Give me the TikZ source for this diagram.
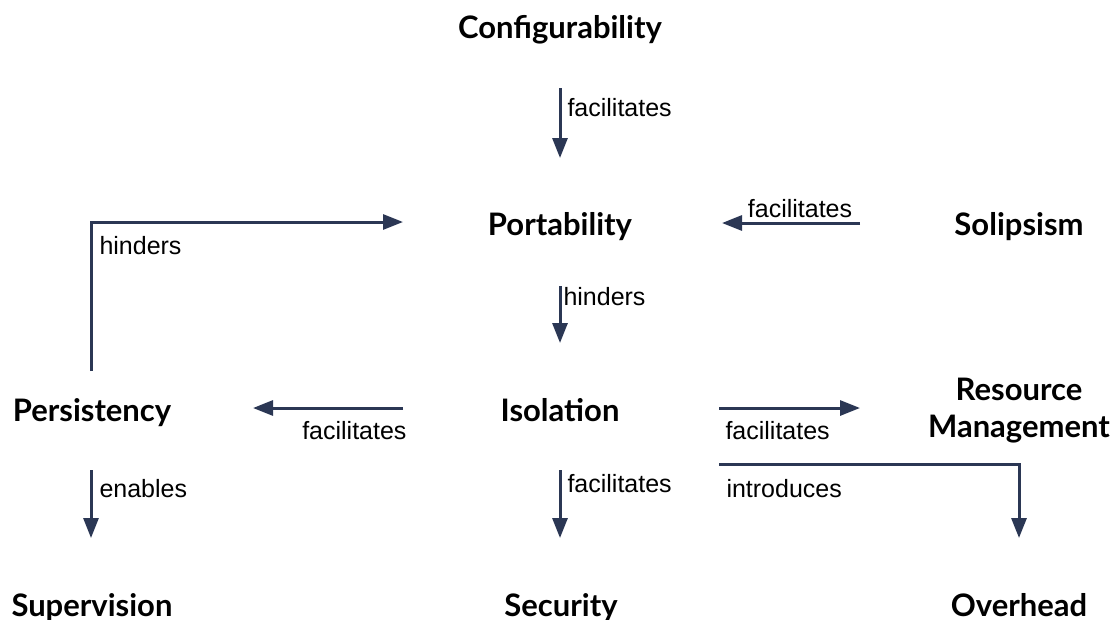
\documentclass[tikz,border=0pt]{standalone}
\usepackage{fontspec}
\setmainfont{Lato}
\newfontfamily\edgefont{Liberation Sans}
\usetikzlibrary{arrows.meta}
\definecolor{linknavy}{HTML}{2B3754}
\tikzset{
  concept/.style={font=\fontsize{31}{37}\selectfont\bfseries, inner sep=0pt, anchor=base, text=black},
  link/.style={draw=linknavy, line width=3pt, -{Triangle[length=20pt,width=15pt]}},
  rel/.style={font=\edgefont\fontsize{25}{30}\selectfont, inner sep=0pt, text=black},
}
\begin{document}
\begin{tikzpicture}[x=1pt,y=-1pt]
\useasboundingbox (0,0) rectangle (1115,619);

% concepts
\node[concept] (conf)  at (560,38)  {Configurability};
\node[concept] (port)  at (560,235) {Portability};
\node[concept] (solip) at (1019,235) {Solipsism};
\node[concept] (pers)  at (92,421)  {Persistency};
\node[concept] (iso)   at (560,421) {Isolation};
\node[concept, anchor=center, align=center] (res) at (1019,411) {Resource\\Management};
\node[concept] (sup)   at (92,616)  {Supervision};
\node[concept] (sec)   at (561,616) {Security};
\node[concept] (over)  at (1019,616) {Overhead};

% relations
\draw[link] ([yshift=-50pt]conf.base) -- ([yshift=77pt]port.base)
  node[rel, at start, anchor=base west, xshift=6pt, yshift=-28pt] {facilitates};
\draw[link] ([xshift=-159pt,yshift=12pt]solip.base) -- ([xshift=162pt,yshift=12pt]port.base)
  node[rel, at start, anchor=base, xshift=-60pt, yshift=6pt] {facilitates};
\draw[link] ([yshift=-51pt]port.base) -- ([yshift=78pt]iso.base)
  node[rel, at start, anchor=base west, xshift=2pt, yshift=-19pt] {hinders};
\draw[link] ([xshift=-1pt,yshift=50pt]pers.base) |- ([xshift=-157pt,yshift=13pt]port.base)
  node[rel, at start, anchor=base west, xshift=7pt, yshift=117pt] {hinders};
\draw[link] ([xshift=-157pt,yshift=13pt]iso.base) -- ([xshift=161pt,yshift=13pt]pers.base)
  node[rel, at start, anchor=base east, xshift=5pt, yshift=-31pt] {facilitates};
\draw[link] ([xshift=159pt,yshift=13pt]iso.base) -- ([xshift=-159pt,yshift=3pt]res.center)
  node[rel, at start, anchor=base west, xshift=5pt, yshift=-31pt] {facilitates};
\draw[link] ([xshift=159pt,yshift=-43pt]iso.base) -| ([yshift=78pt]over.base)
  node[rel, at start, anchor=base west, xshift=6pt, yshift=-33pt] {introduces};
\draw[link] ([yshift=-49pt]iso.base) -- ([xshift=-1pt,yshift=78pt]sec.base)
  node[rel, at start, anchor=base west, xshift=6pt, yshift=-22pt] {facilitates};
\draw[link] ([xshift=-1pt,yshift=-49pt]pers.base) -- ([xshift=-1pt,yshift=78pt]sup.base)
  node[rel, at start, anchor=base west, xshift=7pt, yshift=-27pt] {enables};
\end{tikzpicture}
\end{document}
